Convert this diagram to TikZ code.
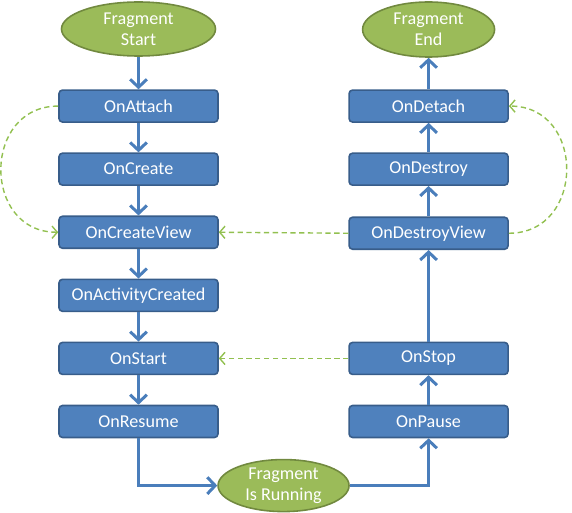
\documentclass[tikz,border=0pt]{standalone}
\usepackage{fontspec}
\setmainfont{Carlito}
\usetikzlibrary{positioning, arrows.meta, shapes.geometric, calc}
\definecolor{frgbox}{HTML}{4F81BD}
\definecolor{frgboxline}{HTML}{385D8A}
\definecolor{frgell}{HTML}{9BBB59}
\definecolor{frgellline}{HTML}{71893F}
\definecolor{frgarrow}{HTML}{4A7EBB}
\definecolor{frgdash}{HTML}{92C050}

\tikzset{
  lcbox/.style={draw=frgboxline, line width=0.9pt, fill=frgbox, rounded corners=2pt,
    minimum width=3.18cm, minimum height=0.64cm, inner sep=0pt, text=white},
  lcstate/.style={ellipse, draw=frgellline, line width=0.9pt, fill=frgell,
    inner sep=0pt, text=white, align=center},
  flow/.style={frgarrow, line width=1.7pt, -{Straight Barb[length=4.5pt,width=9.5pt]}},
  skipflow/.style={frgdash, line width=0.8pt, dash pattern=on 3pt off 2pt,
    -{Straight Barb[length=3pt,width=7pt]}}
}

\begin{document}
\begin{tikzpicture}[font=\fontsize{10.3}{12}\selectfont, node distance=0.59cm]
\useasboundingbox (0,0) rectangle (11.44,10.24);

% creation side
\node[lcstate, minimum width=3.08cm, minimum height=1.08cm] (fstart) at (2.77,9.66) {Fragment\\Start};
\node[lcbox, below=0.65cm of fstart] (attach) {OnAttach};
\node[lcbox, below=of attach] (create) {OnCreate};
\node[lcbox, below=of create] (createview) {OnCreateView};
\node[lcbox, below=of createview] (actcreated) {OnActivityCreated};
\node[lcbox, below=of actcreated] (start) {OnStart};
\node[lcbox, below=of start] (resume) {OnResume};

% destruction side
\node[lcbox, right=2.59cm of attach] (detach) {OnDetach};
\node[lcstate, minimum width=2.64cm, minimum height=1.1cm, above=0.63cm of detach] (fend) {Fragment\\End};
\node[lcbox, below=of detach] (destroy) {OnDestroy};
\node[lcbox, below=0.61cm of destroy] (destroyview) {OnDestroyView};
\node[lcbox, right=2.59cm of start] (stop) {OnStop};
\node[lcbox, right=2.59cm of resume] (pause) {OnPause};

\coordinate (mid) at ($(resume.south)!0.5!(pause.south)$);
\node[lcstate, minimum width=2.62cm, minimum height=1.04cm, below=0.41cm of mid] (running) {Fragment\\Is Running};

% main flow
\draw[flow] (fstart) -- (attach);
\draw[flow] (attach) -- (create);
\draw[flow] (create) -- (createview);
\draw[flow] (createview) -- (actcreated);
\draw[flow] (actcreated) -- (start);
\draw[flow] (start) -- (resume);
\draw[flow] (resume.south) |- (running.west);
\draw[flow] (running.east) -| (pause.south);
\draw[flow] (pause) -- (stop);
\draw[flow] (stop) -- (destroyview);
\draw[flow] (destroyview) -- (destroy);
\draw[flow] (destroy) -- (detach);
\draw[flow] (detach) -- (fend);

% back paths
\draw[skipflow] (attach.west) to[out=180, in=180, looseness=1.55] (createview.west);
\draw[skipflow] (destroyview.east) to[out=0, in=0, looseness=1.55] (detach.east);
\draw[skipflow] (destroyview.west) -- (createview.east);
\draw[skipflow] (stop.west) -- (start.east);
\end{tikzpicture}
\end{document}
